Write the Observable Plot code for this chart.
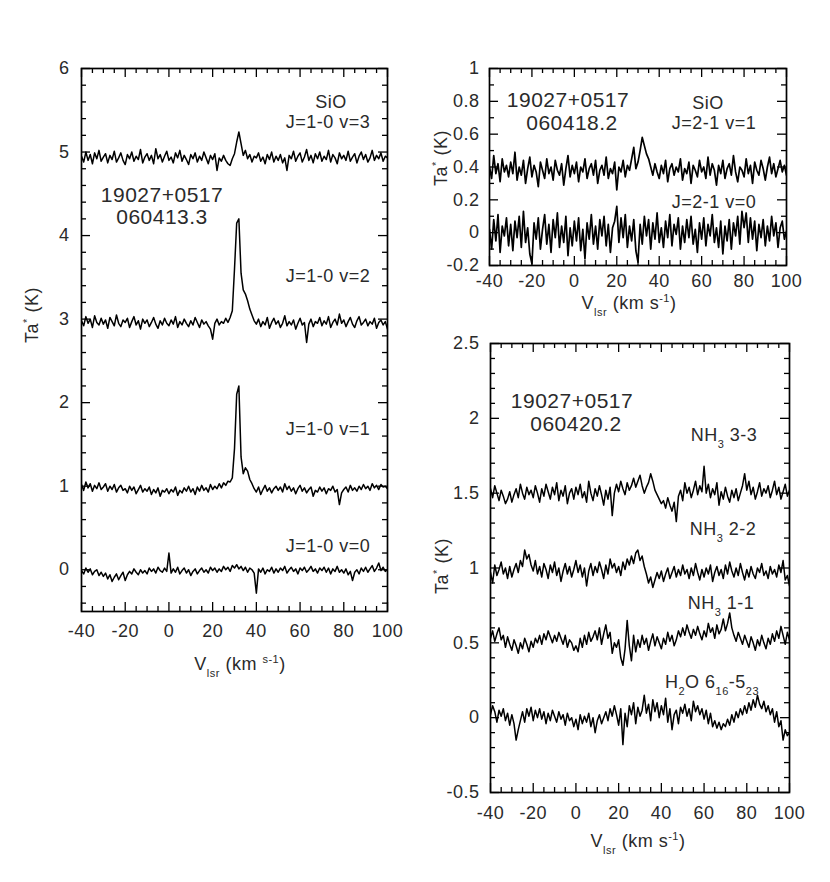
<!DOCTYPE html>
<html><head><meta charset="utf-8">
<script src="https://cdn.jsdelivr.net/npm/d3@7"></script>
<script src="https://cdn.jsdelivr.net/npm/@observablehq/plot@0.6"></script>
<style>
body{margin:0;background:#fff;}
#wrap{position:relative;width:830px;height:882px;font-family:"Liberation Sans",Arial,Helvetica,sans-serif;color:#2a2a2a;overflow:hidden;}
.p{position:absolute;}
.lbl{position:absolute;white-space:nowrap;line-height:0.85;transform:translate(-50%,-50%);font-size:18px;letter-spacing:0.5px;}
.big{font-size:21px;letter-spacing:0.5px;}
.rot{transform:translate(-50%,-50%) rotate(-90deg);}
.lbl sub{font-size:11px;vertical-align:-7px;line-height:0;}
.lbl sup{font-size:11px;vertical-align:7px;line-height:0;}
</style></head>
<body>
<div id="wrap"></div>
<script>
// channel velocities (km/s)
const vel = [-40,-39,-38,-37,-36,-35,-34,-33,-32,-31,-30,-29,-28,-27,-26,-25,-24,-23,-22,-21,-20,-19,-18,-17,-16,-15,-14,-13,-12,-11,-10,-9,-8,-7,-6,-5,-4,-3,-2,-1,0,1,2,3,4,5,6,7,8,9,10,11,12,13,14,15,16,17,18,19,20,21,22,23,24,25,26,27,28,29,30,31,32,33,34,35,36,37,38,39,40,41,42,43,44,45,46,47,48,49,50,51,52,53,54,55,56,57,58,59,60,61,62,63,64,65,66,67,68,69,70,71,72,73,74,75,76,77,78,79,80,81,82,83,84,85,86,87,88,89,90,91,92,93,94,95,96,97,98,99,100];

// Panel 1: SiO J=1-0 (060413.3)
const sio10v3 = [4.95,4.88,5.00,4.90,4.97,4.86,4.99,4.92,5.02,4.89, 4.94,4.98,4.87,4.96,4.91,5.01,4.88,4.93,4.99,4.90, 4.85,4.97,4.92,5.00,4.89,4.95,4.91,5.03,4.87,4.94, 4.98,4.90,4.96,4.86,5.04,4.92,4.97,4.88,4.95,5.01, 4.90,4.94,4.87,4.99,4.93,5.02,4.89,4.96,4.91,4.85, 4.97,4.92,4.99,4.88,4.95,4.90,5.00,4.93,4.86,4.96, 4.91,4.98,4.78,4.93,4.89,4.96,4.90,4.86,4.84,4.92, 4.98,5.12,5.24,5.10,4.96,5.02,4.92,4.97,4.88,4.95, 4.93,4.99,4.89,4.94,4.86,4.97,4.91,5.00,4.88,4.95, 4.90,4.97,4.87,4.93,4.78,4.96,4.92,5.01,4.89,4.95, 4.99,4.88,4.94,5.03,4.90,4.96,4.87,4.98,4.92,5.00, 4.89,4.95,4.91,5.02,4.88,4.97,4.93,4.86,4.99,4.92, 4.96,4.90,5.01,4.89,4.94,4.98,4.87,4.95,5.00,4.91, 4.97,4.88,4.93,5.02,4.90,4.96,4.92,4.99,4.89,4.95, 4.93];
const sio10v2 = [2.98,2.92,3.03,2.95,3.00,2.90,3.04,2.96,2.93,3.01, 2.94,2.99,2.89,3.02,2.97,2.92,3.05,2.95,2.91,2.99, 2.96,3.01,2.90,2.97,3.03,2.93,2.98,2.88,3.00,2.95, 2.99,2.91,2.96,3.02,2.94,2.89,2.98,2.93,3.01,2.95, 2.92,2.99,2.94,3.03,2.90,2.97,2.93,3.00,2.95,2.91, 2.98,2.93,3.02,2.96,2.90,2.99,2.94,2.97,2.92,2.88, 2.76,2.95,3.00,2.93,2.97,2.95,3.01,2.96,3.02,3.10, 3.60,4.15,4.20,3.55,3.35,3.30,3.22,3.12,3.05,2.98, 2.94,3.00,2.91,2.97,2.93,3.02,2.89,2.96,3.01,2.94, 2.98,2.90,2.95,3.04,2.92,2.97,2.93,2.99,2.88,2.95, 3.01,2.93,2.96,2.72,2.94,3.00,2.91,2.97,2.95,3.02, 2.92,2.98,2.94,3.03,2.90,2.96,3.00,2.93,3.06,2.95, 2.99,2.91,2.97,3.02,2.94,2.90,2.98,3.03,2.93,2.96, 3.00,2.92,2.97,2.94,3.01,2.89,2.96,2.99,2.93,2.97, 2.88];
const sio10v1 = [1.02,0.95,1.05,0.98,1.03,0.94,1.01,0.97,1.04,0.96, 0.99,1.03,0.94,1.00,0.96,1.02,0.93,0.98,1.01,0.95, 0.97,0.92,1.00,0.95,0.99,0.91,0.96,1.01,0.93,0.97, 0.94,0.99,0.90,0.96,0.92,0.98,0.88,0.95,0.93,0.97, 0.91,0.96,0.93,0.99,0.89,0.95,0.92,0.98,0.94,1.00, 0.93,0.97,0.90,0.99,0.94,1.01,0.95,0.98,0.93,1.02, 0.96,1.00,0.97,1.03,0.98,1.04,1.01,1.06,1.05,1.10, 1.45,2.10,2.20,1.35,1.15,1.22,1.18,1.08,1.03,0.97, 0.93,0.99,0.90,0.96,1.01,0.94,0.98,0.92,0.97,1.00, 0.95,0.99,0.93,1.03,0.96,1.00,0.94,0.98,0.91,0.97, 1.01,0.94,0.98,0.92,0.96,0.99,0.88,0.95,0.93,0.99, 0.94,0.98,0.91,0.97,0.95,1.00,0.93,0.96,0.78,0.92, 0.96,0.99,0.93,1.01,0.95,0.98,0.94,1.00,0.96,1.02, 0.97,1.00,0.95,1.03,0.98,1.01,0.96,1.02,0.99,1.00, 0.97];
const sio10v0 = [-0.01,-0.05,0.02,-0.03,0.01,-0.06,-0.02,0.00,-0.07,-0.03, -0.08,-0.04,-0.11,-0.06,-0.14,-0.09,-0.05,-0.12,-0.07,-0.03, -0.13,-0.06,-0.02,-0.05,0.01,-0.03,-0.06,0.00,-0.04,-0.01, -0.05,0.02,-0.02,0.01,-0.04,0.03,-0.01,-0.03,0.02,-0.02, 0.20,-0.04,0.01,-0.03,0.03,-0.05,-0.01,0.02,-0.04,0.00, -0.07,-0.02,0.01,-0.05,-0.01,0.02,-0.03,0.00,-0.04,0.03, -0.01,0.02,-0.03,0.01,-0.02,0.04,0.00,0.03,-0.02,0.05, 0.02,0.06,0.01,0.04,-0.01,0.03,-0.03,0.02,0.00,-0.04, -0.28,0.01,-0.03,0.02,-0.05,0.00,-0.02,0.03,-0.04,0.01, -0.03,0.02,-0.01,0.04,-0.04,0.00,0.03,-0.02,0.01,-0.05, 0.02,-0.01,0.03,-0.03,0.00,0.04,-0.02,0.01,-0.04,0.02, -0.01,0.03,-0.03,0.02,-0.05,0.01,-0.02,0.04,-0.03,0.00, -0.04,0.01,-0.06,-0.02,-0.13,-0.03,0.00,-0.05,0.02,-0.02, 0.03,-0.03,0.01,0.05,-0.02,0.02,0.08,-0.01,0.03,-0.02, 0.00];

// Panel 2: SiO J=2-1 (060418.2)
const sio21v1 = [0.40,0.33,0.47,0.36,0.42,0.31,0.45,0.37,0.41,0.34, 0.43,0.36,0.49,0.32,0.40,0.35,0.44,0.30,0.39,0.46, 0.34,0.41,0.37,0.28,0.43,0.38,0.33,0.45,0.36,0.40, 0.32,0.44,0.38,0.35,0.42,0.29,0.39,0.47,0.34,0.41, 0.36,0.43,0.31,0.40,0.37,0.45,0.33,0.39,0.42,0.35, 0.44,0.30,0.38,0.41,0.35,0.46,0.33,0.39,0.36,0.43, 0.26,0.40,0.37,0.44,0.34,0.41,0.38,0.45,0.52,0.39, 0.43,0.50,0.58,0.53,0.48,0.45,0.40,0.35,0.42,0.37, 0.33,0.41,0.36,0.44,0.31,0.39,0.42,0.35,0.40,0.37, 0.45,0.32,0.39,0.36,0.43,0.30,0.41,0.38,0.34,0.44, 0.37,0.40,0.33,0.46,0.35,0.42,0.38,0.29,0.41,0.36, 0.44,0.33,0.39,0.42,0.35,0.47,0.37,0.31,0.40,0.38, 0.34,0.45,0.36,0.41,0.30,0.43,0.38,0.35,0.44,0.39, 0.32,0.40,0.46,0.36,0.42,0.34,0.39,0.44,0.37,0.41, 0.35];
const sio21v0 = [0.02,-0.10,0.08,-0.05,0.11,-0.12,0.04,-0.02,0.09,-0.08, 0.05,-0.11,0.07,-0.03,0.10,-0.09,0.13,-0.06,0.03,-0.13, -0.19,0.06,-0.04,0.09,-0.10,0.02,0.11,-0.07,0.05,-0.12, 0.08,-0.03,0.12,-0.09,0.04,-0.06,0.10,-0.14,0.03,-0.08, 0.07,-0.05,0.09,-0.11,0.02,-0.16,0.06,-0.04,0.11,-0.07, 0.04,-0.10,0.08,-0.02,0.10,-0.08,0.05,-0.12,0.03,0.07, 0.16,-0.06,0.09,-0.03,0.11,-0.09,0.04,-0.05,0.08,-0.11, -0.18,0.05,-0.07,0.10,-0.02,0.08,-0.10,0.06,-0.04,0.12, -0.06,0.03,-0.09,0.07,-0.03,0.11,-0.08,0.05,-0.01,0.09, -0.10,0.04,-0.06,0.08,-0.03,0.10,-0.07,0.02,-0.12,0.06, -0.04,0.09,-0.08,0.05,-0.02,0.11,-0.06,0.03,-0.09,0.07, -0.13,0.04,-0.05,0.08,-0.10,0.06,-0.02,0.10,-0.07,0.13, 0.03,0.12,-0.06,0.09,-0.04,0.07,-0.11,0.05,-0.03,0.08, -0.08,0.04,-0.05,0.10,-0.02,0.06,-0.09,0.03,0.07,-0.04, 0.01];

// Panel 3: NH3 and H2O (060420.2)
const nh3_33 = [1.53,1.47,1.55,1.50,1.45,1.52,1.48,1.43,1.46,1.51, 1.44,1.49,1.53,1.47,1.56,1.50,1.46,1.54,1.49,1.52, 1.47,1.55,1.50,1.44,1.53,1.48,1.56,1.51,1.46,1.54, 1.49,1.57,1.45,1.52,1.48,1.55,1.43,1.50,1.53,1.46, 1.54,1.49,1.56,1.47,1.51,1.44,1.58,1.50,1.45,1.53, 1.48,1.55,1.49,1.42,1.52,1.46,1.54,1.35,1.50,1.56, 1.51,1.58,1.53,1.49,1.57,1.52,1.55,1.60,1.54,1.58, 1.62,1.55,1.50,1.54,1.57,1.63,1.58,1.52,1.49,1.46, 1.43,1.45,1.40,1.47,1.42,1.38,1.44,1.31,1.48,1.52, 1.45,1.57,1.50,1.54,1.47,1.52,1.58,1.49,1.55,1.51, 1.68,1.50,1.56,1.47,1.53,1.49,1.57,1.42,1.51,1.46, 1.54,1.48,1.44,1.52,1.47,1.53,1.45,1.50,1.55,1.63, 1.52,1.58,1.49,1.54,1.46,1.51,1.57,1.48,1.53,1.50, 1.55,1.47,1.52,1.58,1.49,1.54,1.46,1.51,1.56,1.48, 1.52];
const nh3_22 = [0.97,0.90,1.02,0.95,0.99,1.04,0.96,1.00,0.93,1.01, 0.94,0.99,1.03,0.97,1.05,1.01,1.12,1.06,1.09,1.02, 0.98,1.05,0.96,1.01,0.94,1.03,0.99,0.93,1.02,0.97, 1.04,0.95,1.00,0.91,0.98,1.03,0.96,1.01,0.94,0.99, 1.05,0.97,1.02,0.94,1.00,0.88,0.98,1.03,0.95,1.01, 0.97,1.04,0.99,0.93,1.02,0.96,1.06,1.00,1.03,0.97, 1.01,0.95,1.04,0.99,1.06,1.02,1.08,1.03,1.10,1.12, 1.05,1.08,1.01,0.96,0.90,0.94,0.87,0.92,0.97,0.93, 0.98,0.91,0.96,1.00,0.93,0.97,1.01,0.94,0.99,0.95, 1.02,0.96,0.99,0.93,1.00,0.95,1.03,0.97,0.92,0.99, 0.94,1.00,0.96,1.02,0.91,0.97,1.01,0.95,0.99,0.93, 1.02,0.96,1.04,0.98,0.94,1.00,0.95,1.03,0.97,0.92, 0.99,0.94,1.01,0.96,0.93,1.00,0.97,1.03,0.95,0.98, 0.93,1.01,0.96,0.99,0.94,1.02,0.97,1.05,0.92,0.95, 0.88];
const nh3_11 = [0.53,0.58,0.51,0.56,0.60,0.52,0.55,0.47,0.54,0.49, 0.45,0.52,0.48,0.43,0.50,0.46,0.53,0.49,0.44,0.51, 0.47,0.53,0.50,0.55,0.49,0.56,0.52,0.58,0.54,0.50, 0.55,0.51,0.57,0.53,0.49,0.55,0.47,0.52,0.50,0.45, 0.48,0.44,0.53,0.47,0.55,0.49,0.57,0.51,0.54,0.58, 0.52,0.60,0.49,0.56,0.62,0.53,0.57,0.43,0.50,0.47, 0.52,0.40,0.35,0.46,0.65,0.48,0.38,0.55,0.44,0.52, 0.47,0.55,0.49,0.53,0.45,0.51,0.56,0.48,0.54,0.50, 0.46,0.53,0.49,0.57,0.51,0.55,0.48,0.52,0.58,0.54, 0.60,0.55,0.62,0.57,0.53,0.59,0.55,0.61,0.56,0.52, 0.58,0.54,0.63,0.57,0.60,0.53,0.62,0.56,0.59,0.66, 0.58,0.63,0.70,0.60,0.55,0.51,0.57,0.53,0.49,0.55, 0.51,0.47,0.54,0.50,0.45,0.52,0.48,0.55,0.50,0.46, 0.53,0.49,0.56,0.51,0.58,0.53,0.61,0.55,0.49,0.57, 0.52];
const h2o = [0.02,0.08,0.04,-0.03,0.05,0.01,0.06,-0.02,0.03,-0.05, 0.02,-0.04,-0.15,-0.08,-0.02,0.04,-0.03,0.06,0.01,0.07, -0.02,0.05,0.00,0.06,-0.01,0.04,-0.04,0.03,-0.02,0.05, 0.01,-0.03,0.04,-0.01,0.02,-0.05,0.03,-0.02,0.00,-0.06, -0.01,-0.08,0.02,-0.04,0.01,-0.03,0.03,-0.06,0.00,-0.10, -0.02,0.02,-0.04,0.00,0.04,-0.02,0.06,0.01,0.08,0.02, -0.05,0.06,-0.18,0.03,-0.06,0.08,0.02,0.10,-0.04,0.07, 0.01,0.05,0.15,0.03,0.09,-0.02,0.12,0.04,0.10,0.00, 0.08,0.02,0.13,-0.03,0.06,-0.08,0.02,0.05,-0.04,0.07, 0.03,0.09,0.01,0.06,-0.02,0.11,0.04,0.08,0.02,0.06, -0.01,0.05,-0.04,0.03,-0.06,-0.02,-0.07,-0.03,-0.08,-0.04, -0.06,-0.01,-0.05,0.02,-0.03,0.04,0.00,0.06,0.02,0.08, 0.03,0.10,0.05,0.12,0.07,0.15,0.09,0.06,0.11,0.04, 0.08,0.02,0.06,-0.03,0.04,-0.06,-0.02,-0.15,-0.08,-0.12, -0.10];

// Axis ticks
const xMajor = [-40,-20,0,20,40,60,80,100];
const xMinor = [-35,-30,-25,-15,-10,-5,5,10,15,25,30,35,45,50,55,65,70,75,85,90,95];
const y1Major = [0,1,2,3,4,5,6];
const y1Minor = [-0.4,-0.2,0.2,0.4,0.6,0.8,1.2,1.4,1.6,1.8,2.2,2.4,2.6,2.8,3.2,3.4,3.6,3.8,4.2,4.4,4.6,4.8,5.2,5.4,5.6,5.8];
const y2Major = [-0.2,0,0.2,0.4,0.6,0.8,1];
const y2Minor = [-0.1,0.1,0.3,0.5,0.7,0.9];
const y3Major = [-0.5,0,0.5,1,1.5,2,2.5];
const y3Minor = [-0.4,-0.3,-0.2,-0.1,0.1,0.2,0.3,0.4,0.6,0.7,0.8,0.9,1.1,1.2,1.3,1.4,1.6,1.7,1.8,1.9,2.1,2.2,2.3,2.4];

const xDomain = [-40, 100];
const wrap = document.getElementById("wrap");

function panel(cfg) {
  const {left, top, width, height, ml, mr, mt, mb, yDomain, yMajor, yMinor, series, xPad, yPad, lw} = cfg;
  const innerH = height - mt - mb, innerW = width - ml - mr;
  const [y0, y1] = yDomain, [x0, x1] = xDomain;
  const pxY = (y1 - y0) / innerH, pxX = (x1 - x0) / innerW;   // data units per pixel (for tick lengths)
  const majL = 9, minL = 5, tw = 1.3;
  const tickMarks = [];
  for (const [arr, L] of [[xMinor, minL], [xMajor, majL]]) {
    tickMarks.push(Plot.ruleX(arr, {x: d => d, y1: y0, y2: y0 + L * pxY, stroke: "#000", strokeWidth: tw}));
    tickMarks.push(Plot.ruleX(arr, {x: d => d, y1: y1, y2: y1 - L * pxY, stroke: "#000", strokeWidth: tw}));
  }
  for (const [arr, L] of [[yMinor, minL], [yMajor, majL]]) {
    tickMarks.push(Plot.ruleY(arr, {y: d => d, x1: x0, x2: x0 + L * pxX, stroke: "#000", strokeWidth: tw}));
    tickMarks.push(Plot.ruleY(arr, {y: d => d, x1: x1, x2: x1 - L * pxX, stroke: "#000", strokeWidth: tw}));
  }
  const marks = [
    ...tickMarks,
    Plot.axisX(xMajor, {tickSize: 0, tickPadding: xPad, fontSize: 18, tickFormat: d => String(d), label: null, fill: "#2a2a2a"}),
    Plot.axisY(yMajor, {tickSize: 0, tickPadding: yPad, fontSize: 18, tickFormat: d => String(d), label: null, fill: "#2a2a2a"}),
    ...series.map(s => Plot.line(vel.map((v, i) => ({v, t: s[i]})), {x: "v", y: "t", stroke: "#000", strokeWidth: lw, clip: true})),
    Plot.frame({stroke: "#000", strokeWidth: 1.7})
  ];
  const svg = Plot.plot({
    width, height, marginLeft: ml, marginRight: mr, marginTop: mt, marginBottom: mb,
    x: {domain: xDomain},
    y: {domain: yDomain},
    style: {fontFamily: '"Liberation Sans", Arial, Helvetica, sans-serif', background: "transparent", letterSpacing: "0.5px"},
    marks
  });
  svg.classList.add("p");
  svg.style.left = left + "px";
  svg.style.top = top + "px";
  wrap.appendChild(svg);
}

panel({left: 0, top: 0, width: 412, height: 700, ml: 81, mr: 25, mt: 68, mb: 89,
  yDomain: [-0.5, 6], yMajor: y1Major, yMinor: y1Minor, xPad: 13, yPad: 12, lw: 1.5,
  series: [sio10v3, sio10v2, sio10v1, sio10v0]});
panel({left: 400, top: 0, width: 430, height: 330, ml: 89, mr: 44, mt: 68, mb: 65,
  yDomain: [-0.2, 1], yMajor: y2Major, yMinor: y2Minor, xPad: 9, yPad: 10, lw: 1.7,
  series: [sio21v1, sio21v0]});
panel({left: 400, top: 330, width: 430, height: 552, ml: 90, mr: 41, mt: 13, mb: 90,
  yDomain: [-0.5, 2.5], yMajor: y3Major, yMinor: y3Minor, xPad: 14, yPad: 11, lw: 1.5,
  series: [nh3_33, nh3_22, nh3_11, h2o]});

// Text annotations
const labels = [
  ["SiO", 331, 103, ""], ["J=1-0 v=3", 328, 123, ""],
  ["19027+0517", 162, 195, "big"], ["060413.3", 162, 217, "big"],
  ["J=1-0 v=2", 328, 277, ""], ["J=1-0 v=1", 328, 430, ""], ["J=1-0 v=0", 328, 547, ""],
  ["Ta<sup>*</sup> (K)", 33, 315, "rot"],
  ["V<sub>lsr</sub> (km <sup>s-1</sup>)", 240, 665, ""],
  ["19027+0517", 568, 100, "big"], ["060418.2", 572, 123, "big"],
  ["SiO", 708, 104, ""], ["J=2-1 v=1", 714, 124, ""], ["J=2-1 v=0", 714, 203, ""],
  ["Ta<sup>*</sup> (K)", 442, 158, "rot"],
  ["V<sub>lsr</sub> (km s<sup>-1</sup>)", 629, 304, ""],
  ["19027+0517", 572, 401, "big"], ["060420.2", 576, 424, "big"],
  ["NH<sub>3</sub> 3-3", 724, 436, ""], ["NH<sub>3</sub> 2-2", 723, 530, ""], ["NH<sub>3</sub> 1-1", 721, 604, ""],
  ["H<sub>2</sub>O 6<sub>16</sub>-5<sub>23</sub>", 712, 683, ""],
  ["Ta<sup>*</sup> (K)", 443, 566, "rot"],
  ["V<sub>lsr</sub> (km s<sup>-1</sup>)", 638, 842, ""]
];
for (const [html, x, y, cls] of labels) {
  const d = document.createElement("div");
  d.className = "lbl " + cls;
  d.innerHTML = html;
  d.style.left = x + "px";
  d.style.top = y + "px";
  wrap.appendChild(d);
}
</script>
</body></html>
